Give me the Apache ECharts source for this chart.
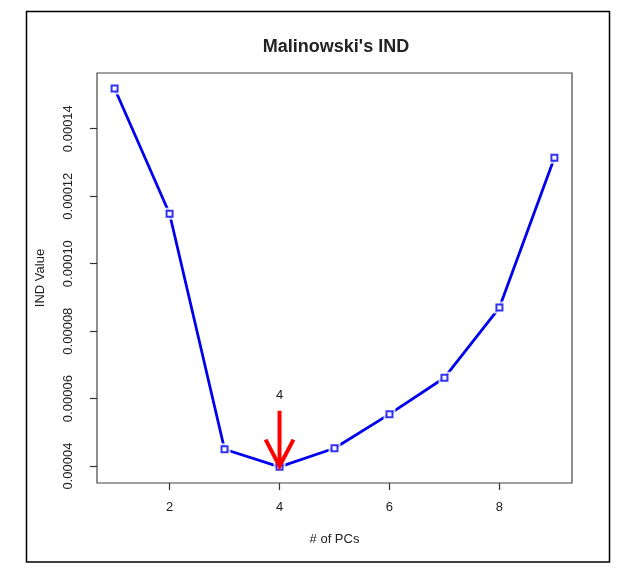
<!DOCTYPE html>
<html>
<head>
<meta charset="utf-8">
<script src="https://cdn.jsdelivr.net/npm/echarts@6/dist/echarts.min.js"></script>
<style>html,body{margin:0;padding:0;background:#fff;}#c{width:617px;height:570px;}</style>
</head>
<body>
<div id="c"></div>
<script>
// ---- data ----
const pcs = [1, 2, 3, 4, 5, 6, 7, 8, 9];
const indValues = [0.0001519, 0.0001148, 0.0000450, 0.0000398, 0.0000453, 0.0000554, 0.0000662, 0.0000870, 0.0001314];
const xTicks = [2, 4, 6, 8];
const yTicks = [0.00004, 0.00006, 0.00008, 0.00010, 0.00012, 0.00014];
const arrowX = 4;
const arrowFrom = 0.0000564;
const arrowTo = 0.0000400;
const arrowLabel = '4';
const arrowLabelY = 0.0000609;

const points = pcs.map((p, i) => [p, indValues[i]]);
const FONT = 'Liberation Sans, Arial, sans-serif';
const chart = echarts.init(document.getElementById('c'), null, {renderer: 'canvas'});

chart.setOption({
  animation: false,
  backgroundColor: '#fff',
  title: {
    text: "Malinowski's IND",
    left: 331, top: 33, textAlign: 'center',
    textStyle: {fontFamily: FONT, fontSize: 18, fontWeight: 'bold', color: '#222'}
  },
  grid: {left: 97, top: 73, right: 45, bottom: 87, show: true, borderColor: '#444', borderWidth: 1.2, backgroundColor: 'transparent'},
  xAxis: {
    type: 'value', min: 0.68, max: 9.32,
    name: '# of PCs', nameLocation: 'middle', nameGap: 50,
    nameTextStyle: {fontFamily: FONT, fontSize: 13, color: '#222'},
    axisLine: {show: false},
    splitLine: {show: false},
    axisTick: {show: true, inside: false, length: 7, customValues: xTicks, lineStyle: {color: '#333', width: 1.2}},
    axisLabel: {customValues: xTicks, margin: 18, fontFamily: FONT, fontSize: 13, color: '#222'}
  },
  yAxis: {
    type: 'value', min: 0.0000350, max: 0.0001565,
    name: 'IND Value', nameLocation: 'middle', nameGap: 50, nameRotate: 90,
    nameTextStyle: {fontFamily: FONT, fontSize: 13, color: '#222'},
    axisLine: {show: false},
    splitLine: {show: false},
    axisTick: {show: true, inside: false, length: 7, customValues: yTicks, lineStyle: {color: '#333', width: 1.2}},
    axisLabel: {customValues: yTicks, rotate: 90, margin: 22, fontFamily: FONT, fontSize: 13, color: '#222',
      formatter: v => v.toFixed(5)}
  },
  series: [
    {type: 'line', data: points, symbol: 'none', lineStyle: {color: '#0000ee', width: 2.8}, z: 2},
    {type: 'scatter', data: points, symbol: 'rect', symbolSize: 12, itemStyle: {color: '#fff'}, z: 3},
    {type: 'scatter', data: points, symbol: 'rect', symbolSize: 6, itemStyle: {color: '#fff', borderColor: '#0000ee', borderWidth: 2}, z: 4},
    {
      type: 'custom', z: 10,
      data: [[arrowX, arrowFrom, arrowTo, arrowLabelY]],
      renderItem: function (params, api) {
        const p0 = api.coord([api.value(0), api.value(1)]);
        const p1 = api.coord([api.value(0), api.value(2)]);
        const pl = api.coord([api.value(0), api.value(3)]);
        const hl = 30, ang = Math.PI / 6.5;
        const dx = p1[0] - p0[0], dy = p1[1] - p0[1];
        const a = Math.atan2(dy, dx);
        const h1 = [p1[0] - hl * Math.cos(a - ang), p1[1] - hl * Math.sin(a - ang)];
        const h2 = [p1[0] - hl * Math.cos(a + ang), p1[1] - hl * Math.sin(a + ang)];
        const st = {stroke: '#ff0000', lineWidth: 4, fill: null, lineCap: 'butt', lineJoin: 'miter'};
        return {
          type: 'group',
          children: [
            {type: 'line', shape: {x1: p0[0], y1: p0[1], x2: p1[0], y2: p1[1]}, style: st},
            {type: 'polyline', shape: {points: [h1, p1, h2]}, style: st},
            {type: 'text', style: {text: arrowLabel, x: pl[0], y: pl[1], align: 'center', verticalAlign: 'middle',
              font: '13px ' + FONT, fill: '#222'}}
          ]
        };
      }
    }
  ],
  graphic: [
    {type: 'rect', shape: {x: 26.5, y: 11.5, width: 583, height: 550.5}, style: {fill: null, stroke: '#000', lineWidth: 1.5}, z: 100, silent: true}
  ]
});
</script>
</body>
</html>
